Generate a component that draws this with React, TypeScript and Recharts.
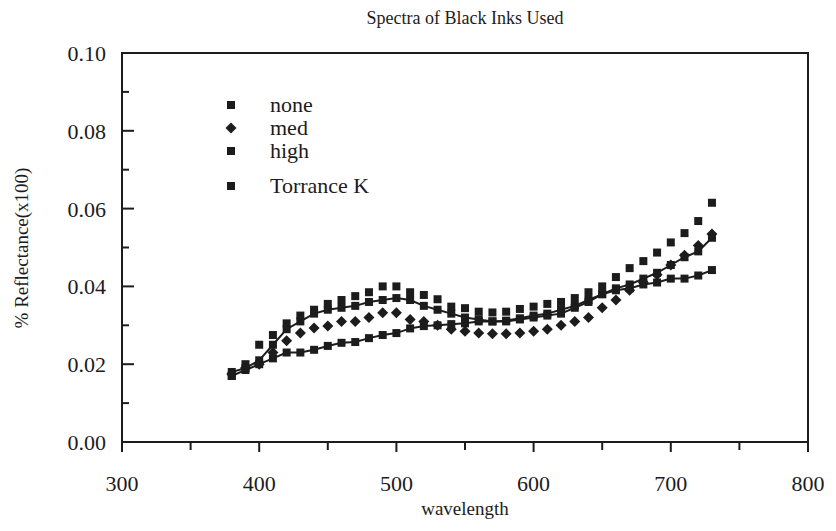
import { ScatterChart, Scatter, XAxis, YAxis, ReferenceArea } from 'recharts'

const wavelengths = [
  380, 390, 400, 410, 420, 430, 440, 450, 460, 470, 480, 490, 500, 510, 520, 530, 540, 550,
  560, 570, 580, 590, 600, 610, 620, 630, 640, 650, 660, 670, 680, 690, 700, 710, 720, 730,
]

const noneValues = [
  0.017, 0.02, 0.025, 0.0275, 0.0305, 0.0325, 0.034, 0.0355, 0.0365, 0.0375, 0.0385, 0.04,
  0.04, 0.0385, 0.0378, 0.0367, 0.0348, 0.0344, 0.0335, 0.0333, 0.0335, 0.0342, 0.0348, 0.0355,
  0.036, 0.037, 0.0385, 0.04, 0.0424, 0.0447, 0.0465, 0.0487, 0.0513, 0.0537, 0.0568, 0.0615,
]

const medValues = [
  0.0175, 0.019, 0.02, 0.023, 0.026, 0.028, 0.0293, 0.0298, 0.031, 0.031, 0.032, 0.0332,
  0.0332, 0.0315, 0.031, 0.03, 0.029, 0.0285, 0.028, 0.0278, 0.0278, 0.028, 0.0285, 0.029,
  0.03, 0.031, 0.032, 0.0345, 0.0365, 0.039, 0.041, 0.043, 0.0455, 0.048, 0.0505, 0.0535,
]

const highValues = [
  0.018, 0.019, 0.021, 0.025, 0.029, 0.031, 0.033, 0.034, 0.0345, 0.035, 0.036, 0.0365,
  0.037, 0.0365, 0.035, 0.034, 0.033, 0.032, 0.0315, 0.031, 0.031, 0.0315, 0.032, 0.0325,
  0.033, 0.0345, 0.036, 0.038, 0.0395, 0.0405, 0.042, 0.0435, 0.0455, 0.0475, 0.049, 0.0525,
]

const torranceValues = [
  0.017, 0.0185, 0.02, 0.0215, 0.023, 0.023, 0.0237, 0.0247, 0.0255, 0.0257, 0.0267, 0.0275,
  0.028, 0.0292, 0.0298, 0.03, 0.0303, 0.0305, 0.031, 0.031, 0.0312, 0.0318, 0.0325, 0.033,
  0.034, 0.035, 0.0365, 0.038, 0.039, 0.0395, 0.0405, 0.041, 0.042, 0.042, 0.0428, 0.0442,
]

const xTicks = [300, 350, 400, 450, 500, 550, 600, 650, 700, 750, 800]
const yTicks = [0, 0.01, 0.02, 0.03, 0.04, 0.05, 0.06, 0.07, 0.08, 0.09, 0.1]

const legendItems = ['none', 'med', 'high', 'Torrance K']

const INK = '#1c1c1c'
const FONT = '"Liberation Serif", "DejaVu Serif", serif'

const toPoints = (values: number[]) => wavelengths.map((nm, i) => ({ nm, r: values[i] }))

const Square = (props: any) => {
  const { cx, cy } = props
  if (cx == null || cy == null) return null
  return <rect x={cx - 4} y={cy - 4} width={8} height={8} fill={INK} />
}

const Diamond = (props: any) => {
  const { cx, cy } = props
  if (cx == null || cy == null) return null
  return <path d={`M${cx},${cy - 5.5}L${cx + 5.5},${cy}L${cx},${cy + 5.5}L${cx - 5.5},${cy}Z`} fill={INK} />
}

// plot edges inside the chart svg
const PLOT_LEFT = 114
const PLOT_BOTTOM = 434

const renderXTick = (props: any) => {
  const { x, payload } = props
  const v = payload.value
  const major = v % 100 === 0
  const y = PLOT_BOTTOM
  return (
    <g key={`x-${v}`}>
      <line x1={x} y1={y} x2={x} y2={y + (major ? 10 : 8)} stroke={INK} strokeWidth={2} />
      {major && (
        <text x={x} y={y + 49} textAnchor="middle" fontSize={22} fill={INK} fontFamily={FONT}>
          {v}
        </text>
      )}
    </g>
  )
}

const renderYTick = (props: any) => {
  const { y, payload } = props
  const v = payload.value
  const major = Math.round(v * 100) % 2 === 0
  const x = PLOT_LEFT
  return (
    <g key={`y-${v}`}>
      <line x1={x} y1={y} x2={x + (major ? 12 : 7)} y2={y} stroke={INK} strokeWidth={2} />
      {major && (
        <text x={x - 16} y={y + 8} textAnchor="end" fontSize={22} fill={INK} fontFamily={FONT}>
          {v.toFixed(2)}
        </text>
      )}
    </g>
  )
}

export default function App() {
  const legendTops = [97, 120, 143, 178]
  return (
    <div style={{ position: 'relative', width: 828, height: 523, fontFamily: FONT, color: INK, background: '#fff' }}>
      <div style={{ position: 'absolute', left: 0, width: 914, top: 0, textAlign: 'center', fontSize: 18 }}>
        Spectra of Black Inks Used
      </div>
      <ScatterChart width={828} height={523} margin={{ top: 45, right: 28, bottom: 29, left: 54 }}>
        <XAxis
          type="number"
          dataKey="nm"
          domain={[300, 800]}
          ticks={xTicks}
          interval={0}
          height={60}
          tickLine={false}
          axisLine={{ stroke: INK, strokeWidth: 2 }}
          tick={renderXTick}
        />
        <YAxis
          type="number"
          dataKey="r"
          domain={[0, 0.1]}
          ticks={yTicks}
          interval={0}
          width={60}
          tickLine={false}
          axisLine={{ stroke: INK, strokeWidth: 2 }}
          tick={renderYTick}
        />
        <ReferenceArea x1={300} x2={800} y1={0} y2={0.1} fill="none" stroke={INK} strokeWidth={2} fillOpacity={0} />
        <Scatter name="Torrance K" data={toPoints(torranceValues)} shape={<Square />} line={{ stroke: INK, strokeWidth: 2 }} isAnimationActive={false} />
        <Scatter name="high" data={toPoints(highValues)} shape={<Square />} line={{ stroke: INK, strokeWidth: 2 }} isAnimationActive={false} />
        <Scatter name="med" data={toPoints(medValues)} shape={<Diamond />} isAnimationActive={false} />
        <Scatter name="none" data={toPoints(noneValues)} shape={<Square />} isAnimationActive={false} />
      </ScatterChart>
      {legendItems.map((name, i) => (
        <div key={name} style={{ position: 'absolute', left: 216, top: legendTops[i] - 13, display: 'flex', alignItems: 'center', fontSize: 22, lineHeight: '26px' }}>
          <svg width={14} height={14} style={{ marginRight: 32 }}>
            {name === 'med' ? <path d="M7,1.5L12.5,7L7,12.5L1.5,7Z" fill={INK} /> : <rect x={3} y={3} width={8} height={8} fill={INK} />}
          </svg>
          <span>{name}</span>
        </div>
      ))}
      <div style={{ position: 'absolute', left: 0, width: 914, top: 490, textAlign: 'center', fontSize: 19 }}>
        wavelength
      </div>
      <div
        style={{
          position: 'absolute',
          left: 14,
          top: 240,
          transform: 'translate(-50%, -50%) rotate(-90deg)',
          whiteSpace: 'nowrap',
          fontSize: 19,
        }}
      >
        % Reflectance(x100)
      </div>
    </div>
  )
}
